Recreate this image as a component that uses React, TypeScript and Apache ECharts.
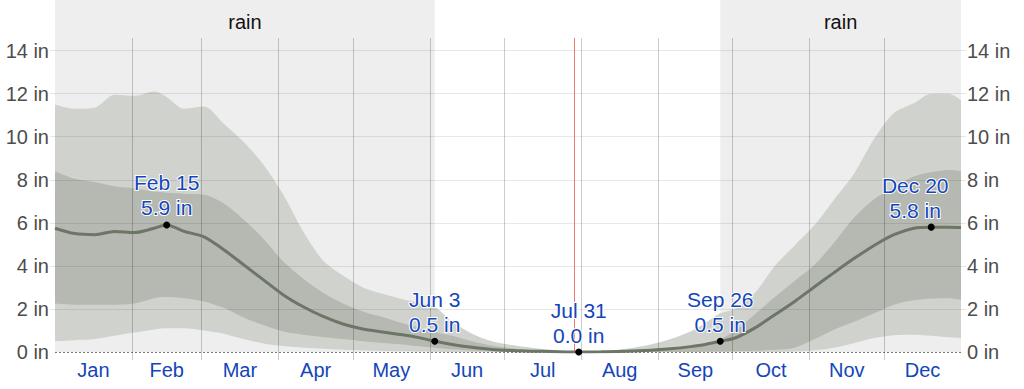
import React, { useEffect, useRef } from 'react';
import * as echarts from 'echarts';

// day of year (0 = Jan 1)
const days = [0, 8, 16, 24, 32, 40, 45, 52, 60, 68, 76, 84, 92, 100, 108, 116, 124, 132, 140, 146, 153, 160, 168, 176, 184, 192, 200, 211, 220, 230, 240, 248, 256, 262, 268, 274, 282, 290, 298, 306, 314, 322, 330, 338, 346, 353, 360, 365];
// 90th percentile of 31-day rainfall (in)
const p90 = [11.5, 11.3, 11.35, 11.95, 11.9, 12.1, 11.85, 11.3, 11.4, 10.6, 9.75, 8.7, 7.3, 5.6, 4.25, 3.55, 3.0, 2.7, 2.45, 2.3, 2.1, 1.4, 0.85, 0.5, 0.32, 0.2, 0.1, 0.03, 0.03, 0.15, 0.35, 0.6, 0.95, 1.35, 1.8, 2.0, 2.75, 4.0, 4.95, 5.9, 7.1, 8.3, 9.9, 11.1, 11.55, 12.0, 12.0, 11.7];
// 75th percentile
const p75 = [8.4, 8.05, 7.9, 7.7, 7.6, 7.45, 7.4, 7.35, 7.3, 6.9, 6.15, 5.25, 4.2, 3.4, 2.75, 2.25, 1.88, 1.62, 1.33, 1.15, 0.92, 0.75, 0.5, 0.3, 0.17, 0.09, 0.05, 0.02, 0.02, 0.04, 0.08, 0.15, 0.28, 0.4, 0.6, 1.0, 1.75, 2.55, 3.3, 4.05, 5.1, 6.25, 7.1, 7.65, 8.15, 8.35, 8.45, 8.4];
// median
const median = [5.75, 5.5, 5.45, 5.6, 5.55, 5.75, 5.9, 5.6, 5.35, 4.75, 4.05, 3.35, 2.65, 2.1, 1.65, 1.3, 1.07, 0.93, 0.8, 0.68, 0.5, 0.35, 0.22, 0.12, 0.07, 0.04, 0.02, 0.0, 0.01, 0.03, 0.08, 0.15, 0.25, 0.35, 0.5, 0.65, 1.12, 1.73, 2.35, 3.03, 3.7, 4.35, 4.95, 5.45, 5.75, 5.8, 5.8, 5.78];
// 25th percentile
const p25 = [2.25, 2.2, 2.2, 2.2, 2.25, 2.5, 2.55, 2.5, 2.35, 2.05, 1.6, 1.25, 0.95, 0.8, 0.7, 0.6, 0.5, 0.42, 0.35, 0.28, 0.2, 0.13, 0.07, 0.03, 0.01, 0, 0, 0, 0, 0, 0, 0, 0, 0.01, 0.02, 0.04, 0.06, 0.1, 0.2, 0.6, 1.05, 1.4, 1.8, 2.2, 2.4, 2.48, 2.5, 2.43];
// 10th percentile
const p10 = [0.5, 0.55, 0.6, 0.75, 0.9, 1.05, 1.1, 1.1, 1.0, 0.85, 0.6, 0.4, 0.28, 0.2, 0.15, 0.1, 0.07, 0.05, 0.03, 0.02, 0.01, 0, 0, 0, 0, 0, 0, 0, 0, 0, 0, 0, 0, 0, 0, 0, 0, 0, 0.02, 0.08, 0.2, 0.42, 0.65, 0.78, 0.8, 0.75, 0.68, 0.65];

const monthNames = ['Jan', 'Feb', 'Mar', 'Apr', 'May', 'Jun', 'Jul', 'Aug', 'Sep', 'Oct', 'Nov', 'Dec'];
const monthStarts = [0, 31, 59, 90, 120, 151, 181, 212, 243, 273, 304, 334, 365];
const yTicks = [0, 2, 4, 6, 8, 10, 12, 14];
const keyDays = [45, 153, 211, 268, 353];
const keyLabels = ['Feb 15', 'Jun 3', 'Jul 31', 'Sep 26', 'Dec 20'];
const rainSeasons = [[0, 153], [268, 365]];
const seasonLabel = 'rain';
const todayDay = 209;

const Y_MAX = 16.35;
const GRID_TOP_VALUE = 14.585;

const BLUE = '#1446b8';
const SEASON_BG = '#eeeeee';
const OUTER = '#d0d2cd';
const INNER = '#b5b9b1';
const LINE = '#6c7666';
const FONT = '"Liberation Sans", Arial, sans-serif';

export default function App() {
  const ref = useRef<HTMLDivElement>(null);

  useEffect(() => {
    if (!ref.current) return;
    const chart = echarts.init(ref.current, undefined, { renderer: 'svg' });

    const pair = (arr: number[]) => days.map((d, i) => [d, arr[i]]);
    const mids = monthNames.map((_, i) => (monthStarts[i] + monthStarts[i + 1]) / 2);

    const smooth = 0.3;
    const band = (name: string, arr: number[], color: string, z: number) => ({
      name,
      type: 'line',
      data: pair(arr),
      smooth,
      symbol: 'none',
      silent: true,
      lineStyle: { width: 0, opacity: 0 },
      areaStyle: { color, opacity: 1, origin: 'start' },
      z,
    });

    const yAxisCommon = (position: 'left' | 'right') => ({
      type: 'value',
      position,
      min: 0,
      max: Y_MAX,
      axisLine: { show: false },
      splitLine: { show: false },
      axisTick: {
        show: true,
        length: 5,
        customValues: yTicks.slice(1),
        lineStyle: { color: 'rgba(0,0,0,0.1)' },
      },
      axisLabel: {
        customValues: yTicks,
        formatter: (v: number) => `${v} in`,
        color: '#4d4d4d',
        fontSize: 20,
        fontFamily: FONT,
        margin: 6,
      },
    });

    const option: any = {
      animation: false,
      textStyle: { fontFamily: FONT },
      grid: { left: 55, right: 63, top: 0, bottom: 37 },
      xAxis: {
        type: 'value',
        min: 0,
        max: 365,
        axisLine: { show: false },
        splitLine: { show: false },
        axisTick: {
          show: true,
          length: 8,
          customValues: monthStarts.slice(1, 12),
          lineStyle: { color: 'rgba(0,0,0,0.2)' },
        },
        axisLabel: {
          customValues: mids,
          formatter: (v: number) => {
            const i = mids.findIndex((m) => Math.abs(m - v) < 0.01);
            return i >= 0 ? monthNames[i] : '';
          },
          color: BLUE,
          fontSize: 20,
          fontFamily: FONT,
          margin: 8,
        },
      },
      yAxis: [yAxisCommon('left'), yAxisCommon('right')],
      series: [
        {
          name: 'season',
          type: 'line',
          data: pair(median),
          symbol: 'none',
          silent: true,
          lineStyle: { opacity: 0 },
          z: 0,
          markArea: {
            silent: true,
            itemStyle: { color: SEASON_BG },
            label: {
              show: true,
              position: 'insideTop',
              distance: 12,
              color: '#111',
              fontSize: 20,
              fontFamily: FONT,
              formatter: seasonLabel,
            },
            data: rainSeasons.map(([a, b]) => [{ xAxis: a }, { xAxis: b }]),
          },
        },
        band('p90', p90, OUTER, 1),
        band('p75', p75, INNER, 2),
        band('p25', p25, OUTER, 3),
        band('p10', p10, SEASON_BG, 4),
        {
          name: 'grid',
          type: 'line',
          data: pair(median),
          symbol: 'none',
          silent: true,
          lineStyle: { opacity: 0 },
          z: 5,
          markLine: {
            silent: true,
            symbol: ['none', 'none'],
            label: { show: false },
            data: [
              ...yTicks.slice(1).map((v) => ({
                yAxis: v,
                lineStyle: { color: 'rgba(0,0,0,0.09)', width: 1, type: 'solid' },
              })),
              { yAxis: 0, lineStyle: { color: '#777', width: 1, type: [2, 2] } },
              ...monthStarts.slice(1, 12).map((d) => [
                { coord: [d, 0], lineStyle: { color: 'rgba(0,0,0,0.2)', width: 1, type: 'solid' } },
                { coord: [d, GRID_TOP_VALUE] },
              ]),
              [
                { coord: [todayDay, 0], lineStyle: { color: '#f07a70', width: 1, type: 'solid' } },
                { coord: [todayDay, GRID_TOP_VALUE] },
              ],
            ],
          },
        },
        {
          name: 'median',
          type: 'line',
          data: pair(median),
          smooth,
          symbol: 'none',
          silent: true,
          lineStyle: { color: LINE, width: 3 },
          z: 6,
        },
        {
          name: 'key',
          type: 'scatter',
          symbolSize: 7,
          itemStyle: { color: '#000', opacity: 1 },
          z: 7,
          label: {
            show: true,
            position: 'top',
            distance: 1,
            color: BLUE,
            fontSize: 21,
            lineHeight: 25,
            fontFamily: FONT,
            textBorderColor: '#ffffff',
            textBorderWidth: 2,
            formatter: (p: any) => `${p.name}\n${p.value[1].toFixed(1)} in`,
          },
          data: keyDays.map((d, i) => ({
            name: keyLabels[i],
            value: [d, median[days.indexOf(d)]],
            label: d === 353 ? { offset: [-16, 0] } : undefined,
          })),
        },
      ],
    };

    chart.setOption(option);
    return () => chart.dispose();
  }, []);

  return (
    <div
      ref={ref}
      style={{ position: 'absolute', left: 0, top: 0, width: 1024, height: 389, background: '#fff' }}
    />
  );
}
